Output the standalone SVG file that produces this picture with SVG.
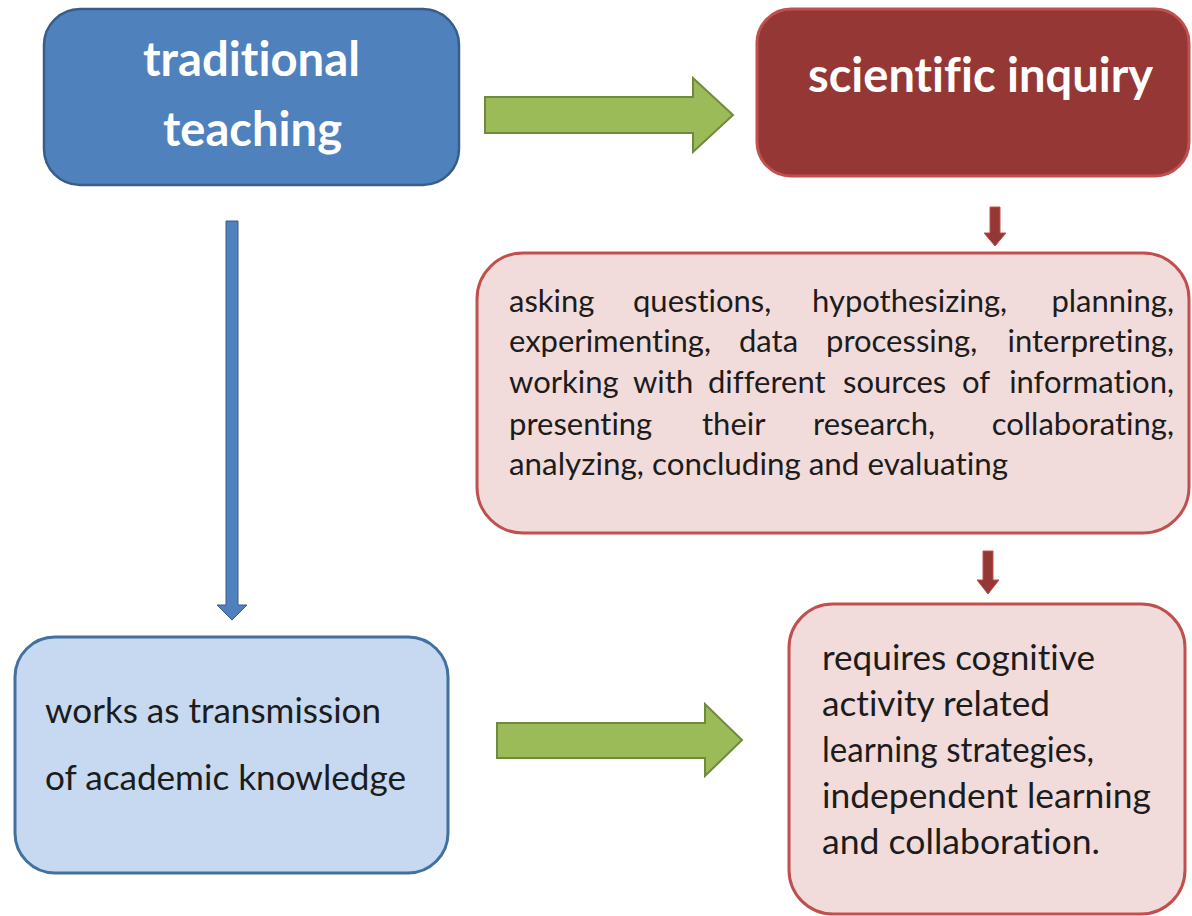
<svg xmlns="http://www.w3.org/2000/svg" width="1192" height="916" viewBox="0 0 1192 916">
<style>
text{font-variant-ligatures:none}
.title{font-family:Lato,"Open Sans","Liberation Sans",sans-serif;font-weight:700;fill:#ffffff;font-size:47px}
.body{font-family:Lato,"Open Sans","Liberation Sans",sans-serif;fill:#1c1c1c;font-size:31px}
.big{font-family:Lato,"Open Sans","Liberation Sans",sans-serif;fill:#1c1c1c;font-size:35px}
.green{fill:#9BBB59;stroke:#71893F;stroke-width:2}
.redarrow{fill:#953735;stroke:#C0504D;stroke-width:1}
.bluearrow{fill:#4F81BD;stroke:#385D8A;stroke-width:1}
</style>
<rect width="1192" height="916" fill="#ffffff"/>
<g id="connectors">
  <path class="green" d="M485,97 H693 V78 L733,115 L693,152 V133 H485 Z"/>
  <path class="green" d="M497,723 H705 V704 L742,740 L705,776 V758 H497 Z"/>
  <path class="bluearrow" d="M226,221 H238 V605 H247 L232,620 L217,605 H226 Z"/>
  <path class="redarrow" d="M990,207 H1000 V233 H1006 L995,246 L984,233 H990 Z"/>
  <path class="redarrow" d="M983,551 H993 V580 H999 L988,594 L977,580 H983 Z"/>
</g>
<g id="traditional-teaching">
  <rect x="44" y="9" width="415" height="176" rx="36" fill="#4F81BD" stroke="#385D8A" stroke-width="2.5"/>
  <text class="title" x="143" y="76" textLength="217" lengthAdjust="spacingAndGlyphs">traditional</text>
  <text class="title" x="163" y="146" textLength="179" lengthAdjust="spacingAndGlyphs">teaching</text>
</g>
<g id="scientific-inquiry">
  <rect x="757" y="9" width="432" height="167" rx="34" fill="#953735" stroke="#C0504D" stroke-width="3"/>
  <text class="title" x="808" y="92" textLength="345" lengthAdjust="spacingAndGlyphs">scientific inquiry</text>
</g>
<g id="activities">
  <rect x="477" y="253" width="712" height="280" rx="46" fill="#F2DCDB" stroke="#C0504D" stroke-width="3"/>
  <text class="body" y="312"><tspan x="509">asking</tspan><tspan x="633">questions,</tspan><tspan x="812">hypothesizing,</tspan></text>
  <text class="body" x="1174" y="312" text-anchor="end">planning,</text>
  <text class="body" y="352"><tspan x="509">experimenting,</tspan><tspan x="739">data</tspan><tspan x="826">processing,</tspan></text>
  <text class="body" x="1174" y="352" text-anchor="end">interpreting,</text>
  <text class="body" y="393"><tspan x="509">working</tspan><tspan x="633">with</tspan><tspan x="708">different</tspan><tspan x="843">sources</tspan><tspan x="962">of</tspan></text>
  <text class="body" x="1174" y="393" text-anchor="end">information,</text>
  <text class="body" y="435"><tspan x="509">presenting</tspan><tspan x="702">their</tspan><tspan x="813">research,</tspan></text>
  <text class="body" x="1174" y="435" text-anchor="end">collaborating,</text>
  <text class="body" x="509" y="475" textLength="499" lengthAdjust="spacingAndGlyphs">analyzing, concluding and evaluating</text>
</g>
<g id="transmission">
  <rect x="15" y="637" width="433" height="236" rx="40" fill="#C6D9F1" stroke="#41719C" stroke-width="3"/>
  <text class="big" x="45" y="723" textLength="336" lengthAdjust="spacingAndGlyphs">works as transmission</text>
  <text class="big" x="45" y="790" textLength="361" lengthAdjust="spacingAndGlyphs">of academic knowledge</text>
</g>
<g id="requires">
  <rect x="789" y="604" width="396" height="310" rx="44" fill="#F2DCDB" stroke="#C0504D" stroke-width="3"/>
  <text class="big" x="822" y="670" textLength="273" lengthAdjust="spacingAndGlyphs">requires cognitive</text>
  <text class="big" x="822" y="716" textLength="228" lengthAdjust="spacingAndGlyphs">activity related</text>
  <text class="big" x="822" y="762" textLength="272" lengthAdjust="spacingAndGlyphs">learning strategies,</text>
  <text class="big" x="822" y="808" textLength="329" lengthAdjust="spacingAndGlyphs">independent learning</text>
  <text class="big" x="822" y="854" textLength="278" lengthAdjust="spacingAndGlyphs">and collaboration.</text>
</g>
</svg>
